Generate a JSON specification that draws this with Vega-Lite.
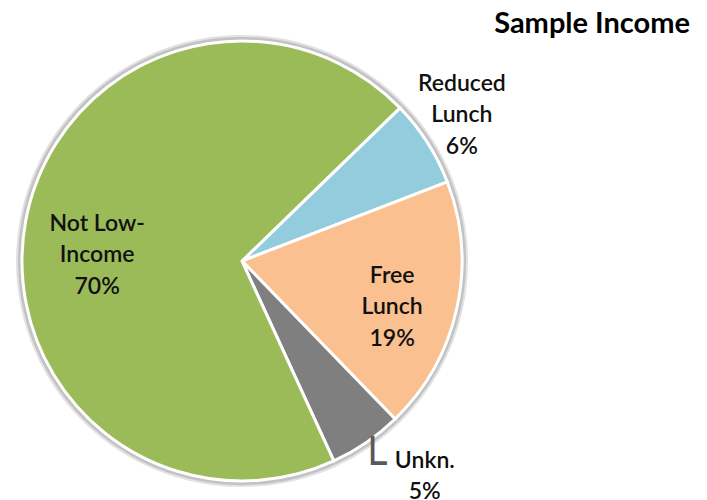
{
  "$schema": "https://vega.github.io/schema/vega-lite/v6.json",
  "width": 707,
  "height": 460,
  "autosize": {"type": "none"},
  "padding": {"left": 0, "top": 40, "right": 0, "bottom": 0},
  "background": "white",
  "config": {"view": {"stroke": null}},
  "title": {
    "text": "Sample Income",
    "anchor": "end",
    "frame": "group",
    "font": "Lato",
    "fontSize": 29,
    "fontWeight": "bold",
    "color": "#000000",
    "offset": -4,
    "dx": -17
  },
  "data": {
    "values": [
      {"cat": "Reduced Lunch", "pct": 6.4, "rank": 1, "label": "Reduced\nLunch\n6%"},
      {"cat": "Free Lunch", "pct": 18.6, "rank": 2, "label": "Free\nLunch\n19%"},
      {"cat": "Unkn.", "pct": 5.4, "rank": 3, "label": "Unkn.\n5%"},
      {"cat": "Not Low-Income", "pct": 69.6, "rank": 4, "label": "Not Low-\nIncome\n70%"}
    ]
  },
  "encoding": {
    "theta": {"field": "pct", "type": "quantitative", "stack": true, "scale": {"range": [0.801, 7.0842]}},
    "order": {"field": "rank", "type": "quantitative", "sort": "ascending"}
  },
  "layer": [
    {"mark": {"type": "arc", "x": 242, "y": 221, "outerRadius": 226, "fill": "#e2e2e2"}},
    {"mark": {"type": "arc", "x": 242, "y": 221, "outerRadius": 224, "fill": "#c2c2c2"}},
    {
      "mark": {"type": "arc", "x": 242, "y": 221, "outerRadius": 220, "stroke": "white", "strokeWidth": 3},
      "encoding": {
        "color": {
          "field": "cat",
          "type": "nominal",
          "scale": {
            "domain": ["Reduced Lunch", "Free Lunch", "Unkn.", "Not Low-Income"],
            "range": ["#93CDDD", "#FAC090", "#7F7F7F", "#9BBB59"]
          },
          "legend": null
        }
      }
    },
    {
      "mark": {"type": "text", "x": 242, "y": 221, "radius": 145, "thetaOffset": -0.1435, "dy": -31, "font": "Lato", "fontSize": 23, "fontWeight": 600, "lineHeight": 31.5, "lineBreak": "\n", "align": "center", "baseline": "middle", "fill": "#111111"},
      "encoding": {"text": {"condition": {"test": "datum.cat === 'Not Low-Income'", "field": "label"}, "value": ""}}
    },
    {
      "mark": {"type": "text", "x": 242, "y": 221, "radius": 157, "thetaOffset": 0.08, "dy": -31, "font": "Lato", "fontSize": 23, "fontWeight": 600, "lineHeight": 31.5, "lineBreak": "\n", "align": "center", "baseline": "middle", "fill": "#111111"},
      "encoding": {"text": {"condition": {"test": "datum.cat === 'Free Lunch'", "field": "label"}, "value": ""}}
    },
    {
      "mark": {"type": "text", "x": 242, "y": 221, "radius": 264, "thetaOffset": -0.018, "dy": -31, "font": "Lato", "fontSize": 23, "fontWeight": 600, "lineHeight": 31.5, "lineBreak": "\n", "align": "center", "baseline": "middle", "fill": "#111111"},
      "encoding": {"text": {"condition": {"test": "datum.cat === 'Reduced Lunch'", "field": "label"}, "value": ""}}
    },
    {
      "mark": {"type": "text", "x": 242, "y": 221, "radius": 282, "thetaOffset": -0.105, "dy": -15, "font": "Lato", "fontSize": 23, "fontWeight": 600, "lineHeight": 31.5, "lineBreak": "\n", "align": "center", "baseline": "middle", "fill": "#111111"},
      "encoding": {"text": {"condition": {"test": "datum.cat === 'Unkn.'", "field": "label"}, "value": ""}}
    },
    {
      "mark": {"type": "text", "x": 242, "y": 221, "radius": 282, "thetaOffset": -0.105, "dx": -66, "dy": 3, "font": "DejaVu Sans", "fontSize": 46, "align": "left", "baseline": "alphabetic", "fill": "#595959"},
      "encoding": {"text": {"condition": {"test": "datum.cat === 'Unkn.'", "value": "└"}, "value": ""}}
    }
  ]
}
